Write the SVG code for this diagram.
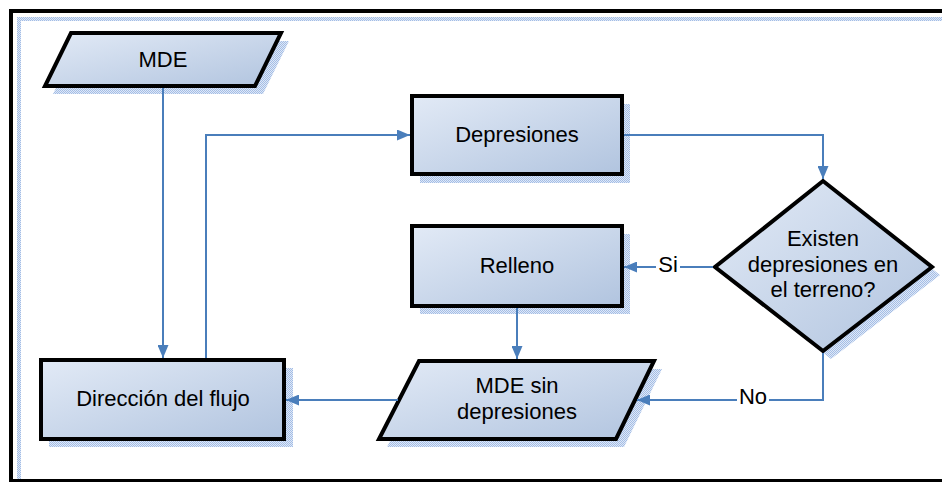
<svg xmlns="http://www.w3.org/2000/svg" width="942" height="482" viewBox="0 0 942 482">
  <defs>
    <linearGradient id="fill" x1="0" y1="0" x2="1" y2="1">
      <stop offset="0" stop-color="#e2eaf6"/>
      <stop offset="1" stop-color="#b1c4df"/>
    </linearGradient>
    <pattern id="hatch" width="2" height="2" patternUnits="userSpaceOnUse">
      <rect width="2" height="2" fill="#dfe8f6"/>
      <rect width="1" height="1" fill="#a3bde6"/>
      <rect x="1" y="1" width="1" height="1" fill="#a3bde6"/>
    </pattern>
    <marker id="arrow" markerWidth="13" markerHeight="11" refX="13" refY="5.5" orient="auto" markerUnits="userSpaceOnUse">
      <path d="M0,0 L13,5.5 L0,11 Z" fill="#4a7ebb"/>
    </marker>
  </defs>
  <style>
    .shape { fill: url(#fill); stroke: #000; stroke-width: 4; stroke-linejoin: miter; }
    .shadow { fill: url(#hatch); stroke: none; }
    .label { font-family: "Liberation Sans", Arial, sans-serif; font-size: 22px; fill: #000; text-anchor: middle; }
    .conn { fill: none; stroke: #4a7ebb; stroke-width: 2; }
  </style>

  <!-- page frame -->
  <g id="frame">
    <path d="M19,482 V19 H942" fill="none" stroke="url(#hatch)" stroke-width="4"/>
    <rect x="11" y="11" width="940" height="470" fill="none" stroke="#000" stroke-width="4"/>
  </g>

  <g id="mde">
    <polygon class="shadow" points="79,41 289,41 263,94 53,94"/>
    <polygon class="shape" points="71,33 281,33 255,86 45,86"/>
    <text class="label" x="163" y="67">MDE</text>
  </g>

  <g id="depresiones">
    <rect class="shadow" x="420" y="104" width="210" height="79"/>
    <rect class="shape" x="412" y="96" width="210" height="78"/>
    <text class="label" x="517" y="142">Depresiones</text>
  </g>

  <g id="decision">
    <polygon class="shadow" points="831,189 940,275 831,359 723,275"/>
    <polygon class="shape" points="823,181 932,267 823,351 715,267"/>
    <text class="label" x="823" y="246">Existen</text>
    <text class="label" x="823" y="272">depresiones en</text>
    <text class="label" x="823" y="297">el terreno?</text>
  </g>

  <g id="relleno">
    <rect class="shadow" x="420" y="234" width="210" height="80"/>
    <rect class="shape" x="412" y="226" width="210" height="80"/>
    <text class="label" x="517" y="273">Relleno</text>
  </g>

  <g id="mde-sin-depresiones">
    <polygon class="shadow" points="427,369 662,369 624,447 387,447"/>
    <polygon class="shape" points="419,361 654,361 616,439 379,439"/>
    <text class="label" x="517" y="393">MDE sin</text>
    <text class="label" x="517" y="419">depresiones</text>
  </g>

  <g id="direccion">
    <rect class="shadow" x="49" y="368" width="244" height="79"/>
    <rect class="shape" x="41" y="360" width="243" height="79"/>
    <text class="label" x="163" y="406">Dirección del flujo</text>
  </g>

  <!-- connectors, drawn over the node shadows -->
  <g id="connectors">
    <path class="conn" d="M163,88 V358" marker-end="url(#arrow)"/>
    <path class="conn" d="M206,358 V135 H410" marker-end="url(#arrow)"/>
    <path class="conn" d="M624,135 H823 V179" marker-end="url(#arrow)"/>
    <path class="conn" d="M713,267 H624" marker-end="url(#arrow)"/>
    <path class="conn" d="M517,308 V359" marker-end="url(#arrow)"/>
    <path class="conn" d="M823,353 V400 H637" marker-end="url(#arrow)"/>
    <path class="conn" d="M398,400 H286" marker-end="url(#arrow)"/>
    <rect x="656" y="255" width="24" height="22" fill="#fff"/>
    <text class="label" x="668" y="272">Si</text>
    <rect x="737" y="389" width="32" height="22" fill="#fff"/>
    <text class="label" x="753" y="404">No</text>
  </g>
</svg>
